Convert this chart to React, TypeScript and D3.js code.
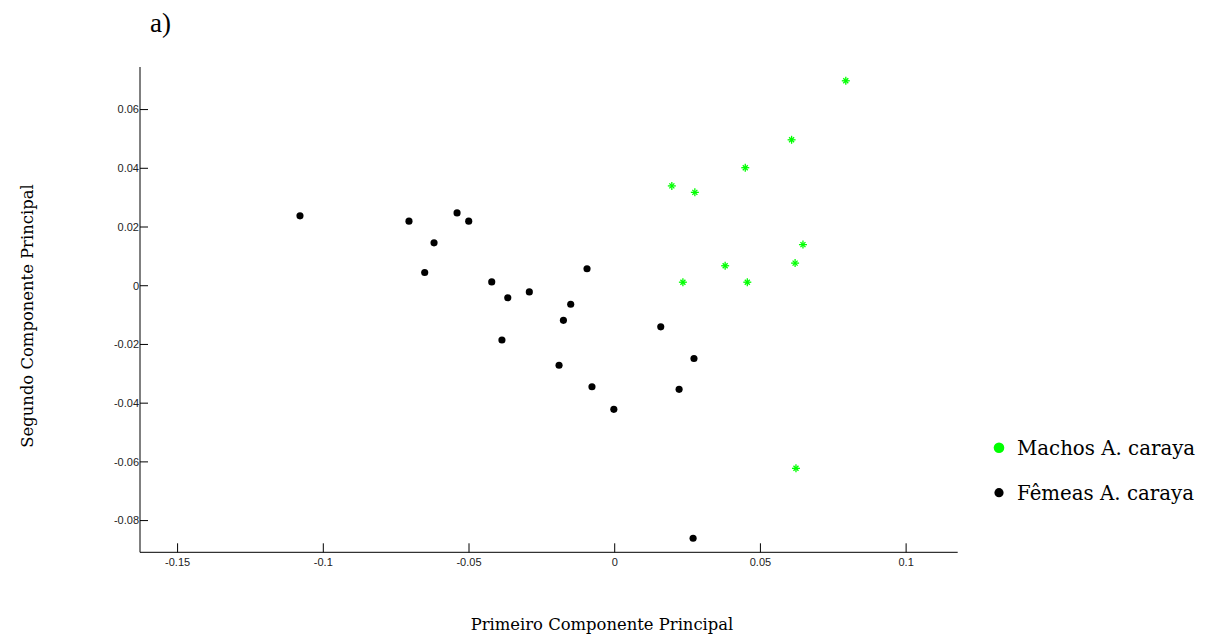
import React from "react";
import { scaleLinear, symbol, symbolCircle } from "d3";

// pontos (PC1, PC2)
const machosX = [0.0793, 0.0607, 0.0448, 0.0196, 0.0275, 0.0646, 0.0379, 0.0619, 0.0234, 0.0455, 0.0622];
const machosY = [0.0698, 0.0497, 0.0402, 0.034, 0.0318, 0.014, 0.0068, 0.0077, 0.0012, 0.0012, -0.0622];

const femeasX = [
  -0.108, -0.0706, -0.0541, -0.0501, -0.062, -0.0652, -0.0422, -0.0367, -0.0387, -0.0095,
  -0.0293, -0.0151, -0.0176, 0.0158, 0.0272, -0.0191, -0.0078, 0.0221, -0.0003, 0.0269,
];
const femeasY = [
  0.0238, 0.022, 0.0248, 0.022, 0.0146, 0.0045, 0.0013, -0.0041, -0.0185, 0.0058,
  -0.0021, -0.0063, -0.0118, -0.014, -0.0248, -0.0271, -0.0344, -0.0353, -0.0421, -0.086,
];

const xTicks = [-0.15, -0.1, -0.05, 0, 0.05, 0.1];
const xTickLabels = ["-0.15", "-0.1", "-0.05", "0", "0.05", "0.1"];
const yTicks = [-0.08, -0.06, -0.04, -0.02, 0, 0.02, 0.04, 0.06];
const yTickLabels = ["-0.08", "-0.06", "-0.04", "-0.02", "0", "0.02", "0.04", "0.06"];

const legendLabels = ["Machos A. caraya", "Fêmeas A. caraya"];
const legendColors = ["#00ff00", "#000000"];

const width = 1212;
const height = 639;

const App = () => {
  const xScale = scaleLinear().domain([-0.1629, 0.1177]).range([140, 957.7]);
  const yScale = scaleLinear().domain([-0.0908, 0.0745]).range([552.3, 67]);

  const [x0, x1] = xScale.range();
  const [y0, y1] = yScale.range();

  const dot = symbol().type(symbolCircle).size(40)();

  return (
    <svg
      width={width}
      height={height}
      style={{ position: "absolute", left: 0, top: 0, background: "#fff" }}
    >
      <text x={150} y={32} fontFamily="Liberation Serif" fontSize={27}>
        a)
      </text>

      {/* eixos */}
      <line x1={x0} x2={x0} y1={y1} y2={y0} stroke="#000" strokeWidth={1} />
      <line x1={x0} x2={x1} y1={y0} y2={y0} stroke="#000" strokeWidth={1} />

      {yTicks.map((t, i) => (
        <g key={"y" + i}>
          <line x1={x0} x2={x0 + 8} y1={yScale(t)} y2={yScale(t)} stroke="#000" />
          <text
            x={x0 - 1}
            y={yScale(t)}
            dy="0.35em"
            textAnchor="end"
            fontFamily="Liberation Sans"
            fontSize={11}
            fill="#222"
          >
            {yTickLabels[i]}
          </text>
        </g>
      ))}

      {xTicks.map((t, i) => (
        <g key={"x" + i}>
          <line x1={xScale(t)} x2={xScale(t)} y1={y0} y2={y0 - 9} stroke="#000" />
          <text
            x={xScale(t)}
            y={y0 + 14}
            textAnchor="middle"
            fontFamily="Liberation Sans"
            fontSize={11}
            fill="#222"
          >
            {xTickLabels[i]}
          </text>
        </g>
      ))}

      {/* femeas */}
      {femeasX.map((v, i) => (
        <path
          key={"f" + i}
          d={dot}
          transform={`translate(${xScale(v)},${yScale(femeasY[i])})`}
          fill="#000"
        />
      ))}

      {/* machos: asterisco verde */}
      {machosX.map((v, i) => (
        <g
          key={"m" + i}
          transform={`translate(${xScale(v)},${yScale(machosY[i])})`}
          stroke="#00ff00"
          strokeWidth={1.3}
        >
          <line x1={-4} x2={4} y1={0} y2={0} />
          <line x1={0} x2={0} y1={-4} y2={4} />
          <line x1={-2.5} x2={2.5} y1={-2.5} y2={2.5} />
          <line x1={-2.5} x2={2.5} y1={2.5} y2={-2.5} />
        </g>
      ))}

      <text x={602} y={630} fontFamily="DejaVu Serif" fontSize={16.4} textAnchor="middle">
        Primeiro Componente Principal
      </text>
      <text
        transform="translate(33,316) rotate(-90)"
        fontFamily="DejaVu Serif"
        fontSize={16.4}
        textAnchor="middle"
      >
        Segundo Componente Principal
      </text>

      {legendLabels.map((l, i) => (
        <g key={"l" + i} transform={`translate(999,${447.7 + i * 45})`}>
          <circle r={i === 0 ? 5.3 : 4.6} fill={legendColors[i]} />
          <text x={18} y={0} dy="0.37em" fontFamily="DejaVu Serif" fontSize={19.8}>
            {l}
          </text>
        </g>
      ))}
    </svg>
  );
};

export default App;
